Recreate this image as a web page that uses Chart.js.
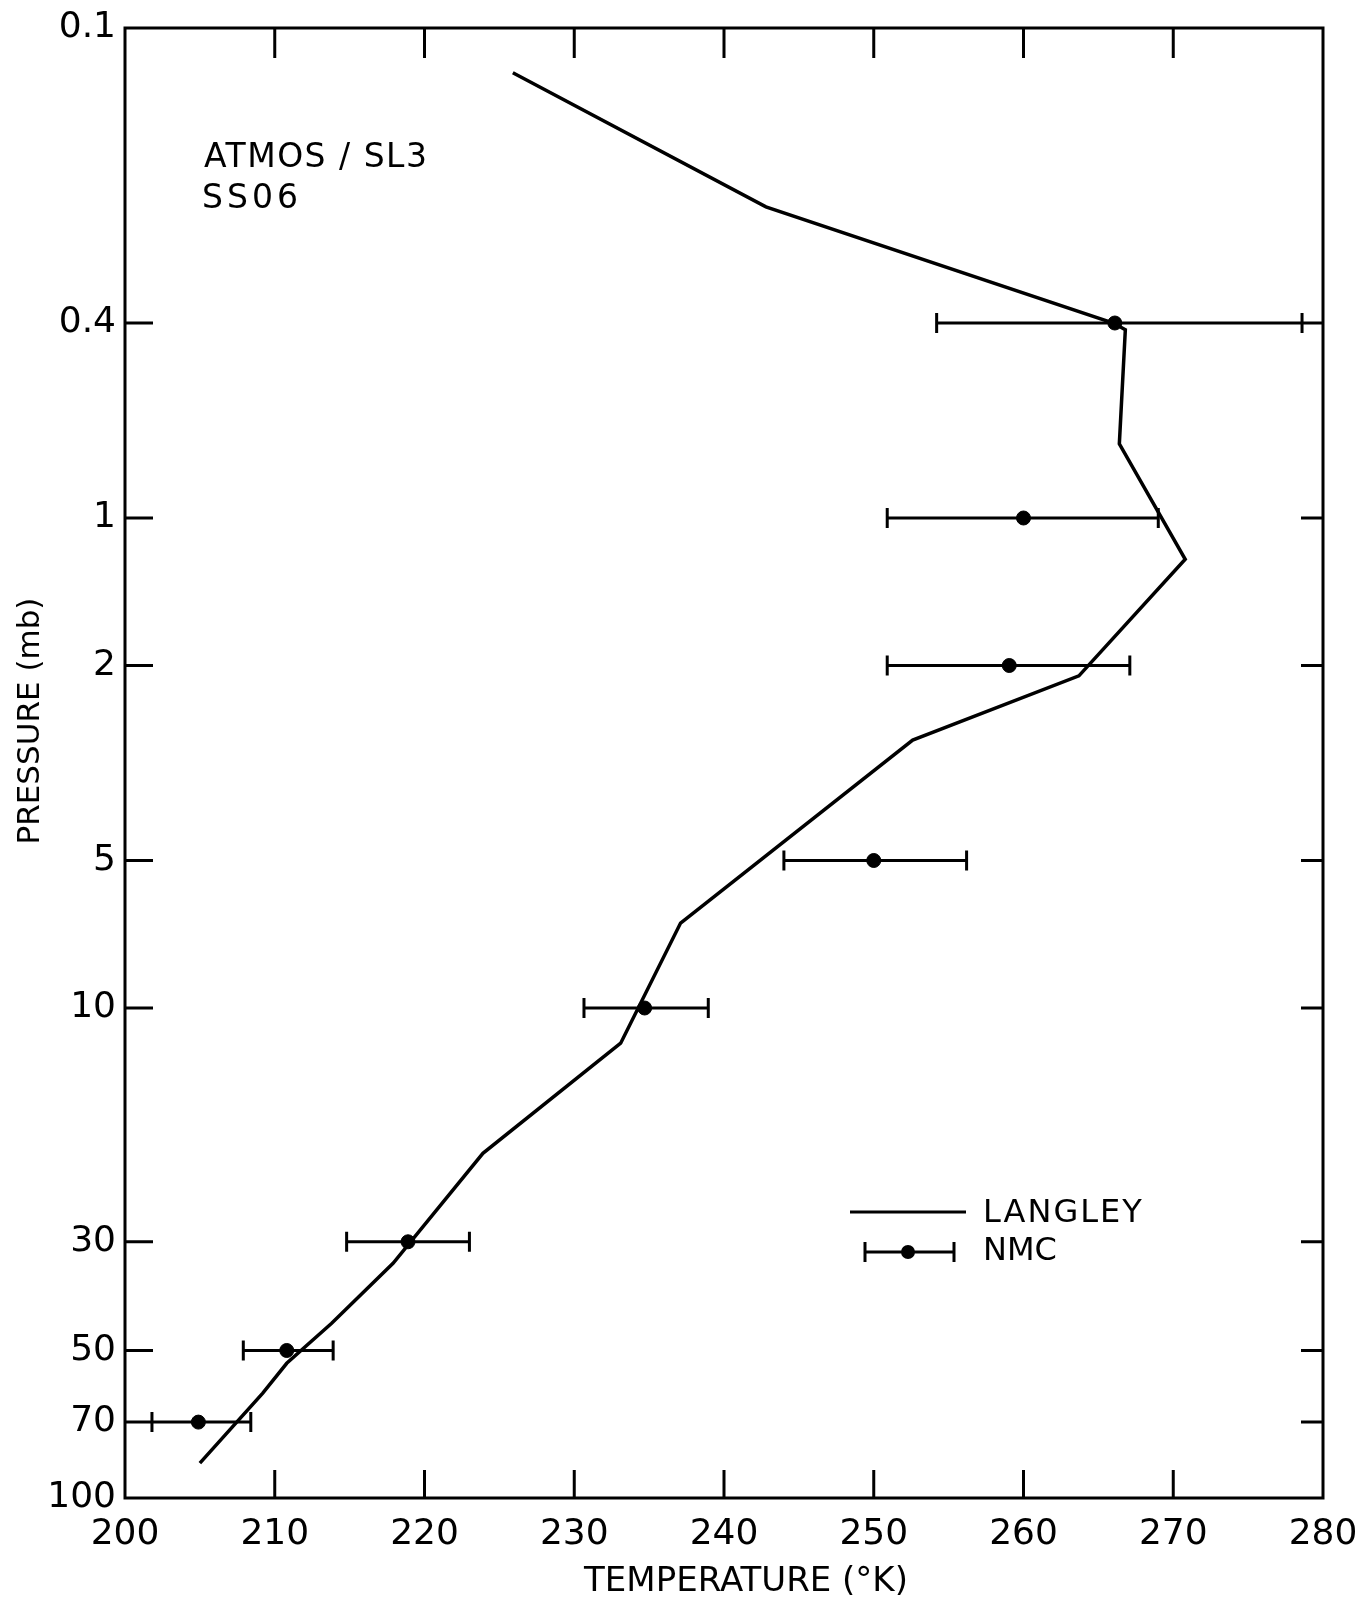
<!DOCTYPE html>
<html>
<head>
<meta charset="utf-8">
<script src="https://cdn.jsdelivr.net/npm/chart.js@4.4.1/dist/chart.umd.min.js"></script>
<style>
  html, body { margin: 0; padding: 0; background: #fff; }
  canvas { display: block; }
</style>
</head>
<body>
<canvas id="perfil" width="1363" height="1605"></canvas>
<script>

// Langley profile (temperature K, pressure mb)
const langleyT = [225.9, 242.8, 266.0, 266.8, 266.4, 270.8, 263.7, 252.6, 237.1, 233.1, 223.9, 217.9, 213.8, 210.8, 209.2, 205.0];
const langleyP = [0.1234, 0.2317, 0.400, 0.413, 0.706, 1.214, 2.10, 2.84, 6.71, 11.8, 19.8, 33.2, 44.0, 53.1, 61.1, 84.9];

// NMC points with error bars
const nmcT    = [266.1, 260.0, 259.05, 250.0, 234.7, 218.9, 210.8, 204.9];
const nmcP    = [0.4, 1, 2, 5, 10, 30, 50, 70];
const nmcLow  = [254.2, 250.9, 250.9, 244.0, 230.65, 214.8, 207.9, 201.8];
const nmcHigh = [278.6, 269.0, 267.1, 256.2, 238.95, 223.0, 213.9, 208.4];

const xTicks = [200, 210, 220, 230, 240, 250, 260, 270, 280];
const xTickLabels = ['200', '210', '220', '230', '240', '250', '260', '270', '280'];
const yTicks = [0.1, 0.4, 1, 2, 5, 10, 30, 50, 70, 100];
const yTickLabels = ['0.1', '0.4', '1', '2', '5', '10', '30', '50', '70', '100'];

const FONT = '"DejaVu Sans", sans-serif';

const errorBars = {
  id: 'errorBars',
  beforeDatasetsDraw(chart) {
    const c = chart.ctx, x = chart.scales.x, y = chart.scales.y;
    c.save();
    c.strokeStyle = '#000';
    c.lineWidth = 3;
    for (let i = 0; i < nmcT.length; i++) {
      const py = y.getPixelForValue(nmcP[i]);
      const x1 = x.getPixelForValue(nmcLow[i]);
      const x2 = x.getPixelForValue(nmcHigh[i]);
      c.beginPath();
      c.moveTo(x1, py); c.lineTo(x2, py);
      c.moveTo(x1, py - 10); c.lineTo(x1, py + 10);
      c.moveTo(x2, py - 10); c.lineTo(x2, py + 10);
      c.stroke();
    }
    c.restore();
  }
};

const frame = {
  id: 'frame',
  afterDraw(chart) {
    const c = chart.ctx, x = chart.scales.x, y = chart.scales.y;
    const a = chart.chartArea;
    c.save();
    c.strokeStyle = '#000';
    c.fillStyle = '#000';
    c.lineWidth = 3;
    c.strokeRect(a.left, a.top, a.right - a.left, a.bottom - a.top);

    // inward ticks
    c.beginPath();
    xTicks.slice(1, -1).forEach(v => {
      const px = x.getPixelForValue(v);
      c.moveTo(px, a.bottom); c.lineTo(px, a.bottom - 28);
      c.moveTo(px, a.top); c.lineTo(px, a.top + 30);
    });
    yTicks.slice(1, -1).forEach(v => {
      const py = y.getPixelForValue(v);
      c.moveTo(a.left, py); c.lineTo(a.left + 28, py);
      c.moveTo(a.right, py); c.lineTo(a.right - 22, py);
    });
    c.stroke();

    // tick labels
    c.font = '36px ' + FONT;
    c.textAlign = 'center';
    c.textBaseline = 'middle';
    xTicks.forEach((v, i) => c.fillText(xTickLabels[i], x.getPixelForValue(v), a.bottom + 37));
    c.textAlign = 'right';
    yTicks.forEach((v, i) => c.fillText(yTickLabels[i], a.left - 9, y.getPixelForValue(v)));

    // axis titles
    c.textAlign = 'center';
    c.font = '34px ' + FONT;
    c.fillText('TEMPERATURE (°K)', (a.left + a.right) / 2 + 22, 1582);
    c.save();
    c.translate(31, 721);
    c.rotate(-Math.PI / 2);
    c.font = '31px ' + FONT;
    c.fillText('PRESSURE (mb)', 0, 0);
    c.restore();

    // annotation
    c.textAlign = 'left';
    c.font = '33px ' + FONT;
    c.letterSpacing = '1.5px';
    c.fillText('ATMOS / SL3', 204, 158);
    c.letterSpacing = '4px';
    c.fillText('SS06', 202, 199);

    // legend
    c.font = '32px ' + FONT;
    c.letterSpacing = '2px';
    c.fillText('LANGLEY', 983, 1214);
    c.letterSpacing = '0px';
    c.fillText('NMC', 983, 1252);
    c.beginPath();
    c.lineWidth = 3;
    c.moveTo(850, 1212); c.lineTo(966, 1212);
    c.moveTo(865, 1252); c.lineTo(954, 1252);
    c.moveTo(865, 1242); c.lineTo(865, 1262);
    c.moveTo(954, 1242); c.lineTo(954, 1262);
    c.stroke();
    c.beginPath();
    c.arc(908, 1252, 7, 0, Math.PI * 2);
    c.fill();
    c.restore();
  }
};

new Chart(document.getElementById('perfil'), {
  type: 'scatter',
  data: {
    datasets: [
      {
        label: 'LANGLEY',
        data: langleyT.map((t, i) => ({ x: t, y: langleyP[i] })),
        showLine: true,
        borderColor: '#000',
        borderWidth: 3.5,
        pointRadius: 0,
        tension: 0
      },
      {
        label: 'NMC',
        data: nmcT.map((t, i) => ({ x: t, y: nmcP[i] })),
        showLine: false,
        backgroundColor: '#000',
        borderColor: '#000',
        pointRadius: 7
      }
    ]
  },
  options: {
    responsive: false,
    animation: false,
    layout: {
      padding: { left: 125, right: 40, top: 28, bottom: 107 }
    },
    plugins: {
      legend: { display: false },
      tooltip: { enabled: false }
    },
    scales: {
      x: {
        type: 'linear',
        min: 200,
        max: 280,
        display: false
      },
      y: {
        type: 'logarithmic',
        min: 0.1,
        max: 100,
        reverse: true,
        display: false
      }
    }
  },
  plugins: [errorBars, frame]
});
</script>
</body>
</html>
